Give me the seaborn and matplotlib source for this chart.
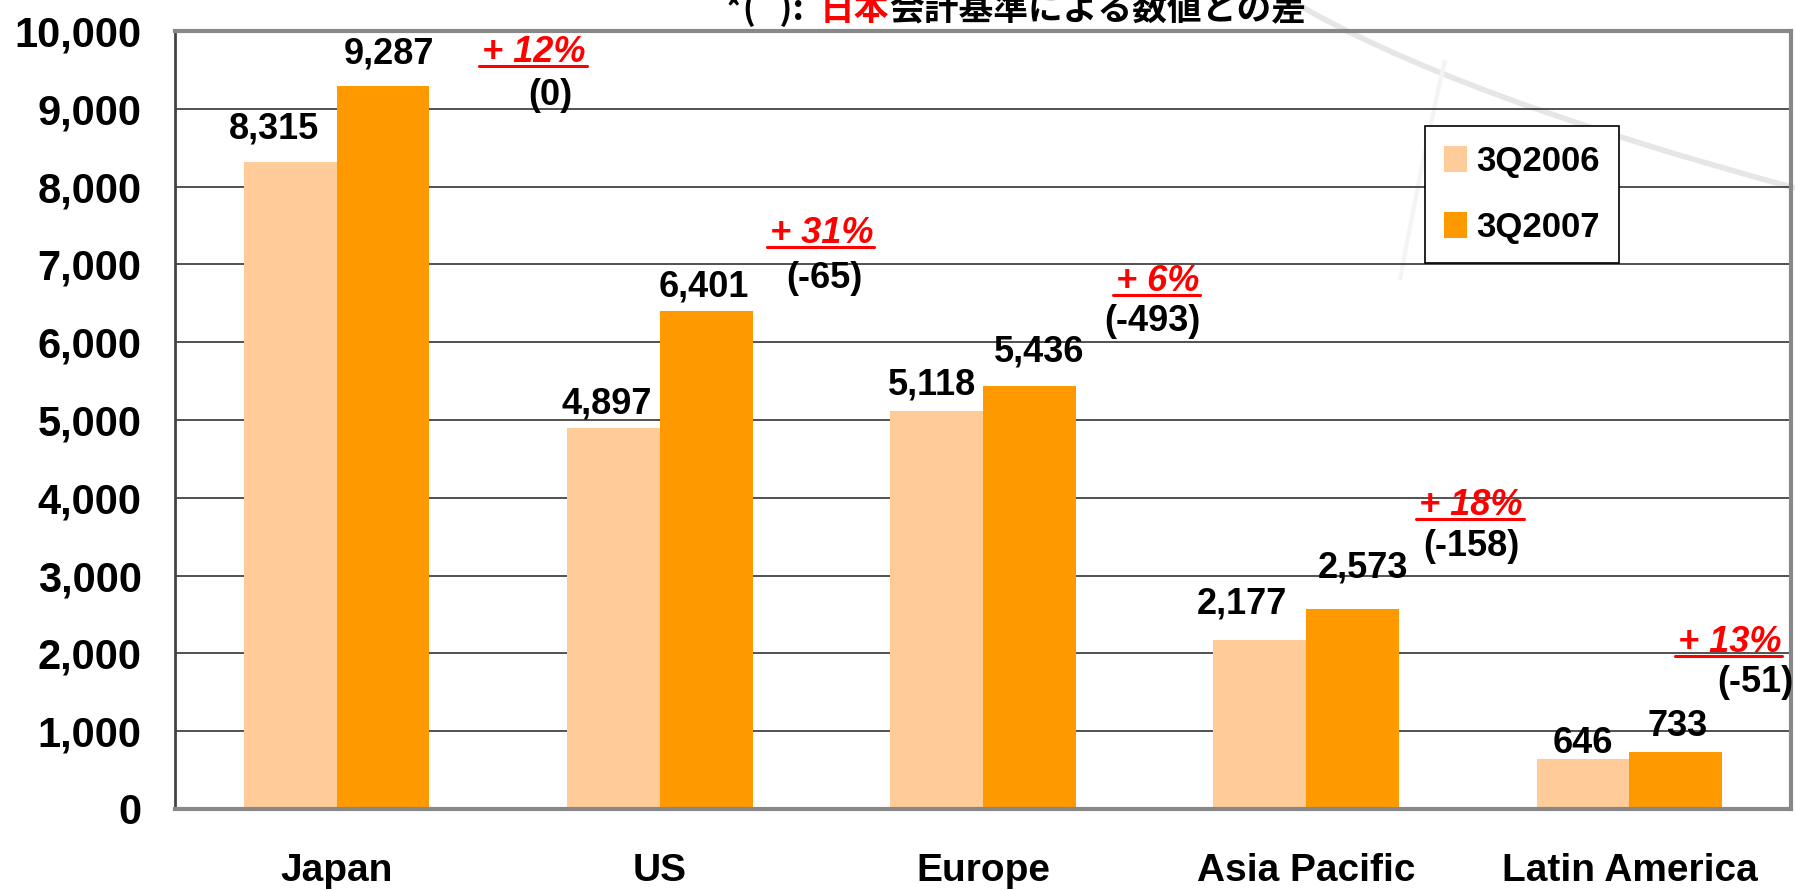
import matplotlib
matplotlib.use('Agg')
import matplotlib.pyplot as plt
from matplotlib.lines import Line2D
from matplotlib.patches import Patch, PathPatch
from matplotlib.path import Path
from matplotlib.transforms import Affine2D
import seaborn as sns
import pandas as pd

# データ
regions = ['Japan', 'US', 'Europe', 'Asia Pacific', 'Latin America']
periods = ['3Q2006', '3Q2007']
sales_2006 = [8315, 4897, 5118, 2177, 646]
sales_2007 = [9287, 6401, 5436, 2573, 733]
growth = ['+ 12%', '+ 31%', '+ 6%', '+ 18%', '+ 13%']
gaap_diff = ['(0)', '(-65)', '(-493)', '(-158)', '(-51)']

# 注記の位置 (カテゴリ単位, 値)
note_x = [0.61, 1.50, 2.54, 3.51, 4.31]
note_y = [9600, 7275, 6660, 3780, 2020]
diff_x = [0.66, 1.51, 2.525, 3.51, 4.39]
diff_y = [9165, 6825, 6260, 3370, 1620]

# 値ラベルのずれ (px: 横, バー上端からベースラインまで)
label_dx = [[-16, -7, -5, -18, 0], [6, -2, 10, 10, 2]]
label_gap = [[24, 15, 16, 26, 6], [23, 15, 25, 31, 16]]

df = pd.DataFrame({
    'region': regions * 2,
    'period': [periods[0]] * len(regions) + [periods[1]] * len(regions),
    'sales': sales_2006 + sales_2007,
})

sns.set_style('white')
plt.rcParams['font.family'] = ['Liberation Sans', 'DejaVu Sans']
plt.rcParams['text.color'] = 'black'
plt.rcParams['xtick.labelcolor'] = 'black'
plt.rcParams['ytick.labelcolor'] = 'black'

W, H = 1795, 890
fig = plt.figure(figsize=(W / 100, H / 100), dpi=100)
ax = fig.add_axes([175 / W, 81 / H, 1616 / W, 778 / H])
ax.patch.set_alpha(0)

colors = ['#FFCC99', '#FF9900']
sns.barplot(data=df, x='region', y='sales', hue='period', palette=colors,
            width=0.574, saturation=1, errorbar=None, ax=ax, legend=False,
            linewidth=0)

ax.set_xlim(-0.5, 4.5)
ax.set_ylim(0, 10000)
ax.set_xlabel('')
ax.set_ylabel('')

# 軸
ax.set_yticks(range(0, 10001, 1000))
ax.set_yticklabels([f'{v:,}' for v in range(0, 10001, 1000)],
                   fontweight='bold', fontsize=30)
ax.tick_params(axis='y', direction='in', length=11, width=1.5, color='#444444', pad=24)
ax.set_xticks(range(len(regions)))
ax.set_xticklabels(regions, fontweight='bold', fontsize=28)
ax.set_xticks([0.5, 1.5, 2.5, 3.5], minor=True)
ax.tick_params(axis='x', which='major', length=0, pad=32)
ax.tick_params(axis='x', which='minor', direction='in', length=8, width=1.5, color='#555555')
ax.yaxis.grid(True, color='#333333', lw=1.2)
ax.set_axisbelow(True)
for side in ['top', 'right', 'bottom']:
    ax.spines[side].set_color('#888888')
    ax.spines[side].set_linewidth(3)
ax.spines['left'].set_color('#444444')
ax.spines['left'].set_linewidth(2)

# 値ラベル
for cont, vals, dxs, gaps in zip(ax.containers, [sales_2006, sales_2007], label_dx, label_gap):
    for bar, v, dx, gap in zip(cont, vals, dxs, gaps):
        ax.annotate(f'{v:,}', (bar.get_x() + bar.get_width() / 2, bar.get_height()),
                    xytext=(dx * 0.72, gap * 0.72), textcoords='offset points',
                    ha='center', va='baseline', fontweight='bold', fontsize=26)

# 伸び率と日本基準との差
pct_texts = []
for x, y, s in zip(note_x, note_y, growth):
    t = ax.text(x, y, s, color='#FF0000', fontsize=26, fontweight='bold',
                fontstyle='italic', ha='center', va='baseline', clip_on=False)
    pct_texts.append((t, x, y))
for x, y, s in zip(diff_x, diff_y, gaap_diff):
    ax.text(x, y, s, color='black', fontsize=26, fontweight='bold',
            ha='center', va='center', clip_on=False)

# 凡例
handles = [Patch(facecolor=c, edgecolor='none') for c in colors]
leg = ax.legend(handles, periods, loc='upper left', bbox_to_anchor=(0.7735, 0.878),
                frameon=True, fancybox=False, framealpha=1, edgecolor='black',
                prop={'weight': 'bold', 'size': 25}, handlelength=0.67,
                handleheight=0.75, handletextpad=0.25, labelspacing=0.95,
                borderpad=0.55, borderaxespad=0)
leg.get_frame().set_linewidth(1.2)

# 背景の飾り曲線
px = Affine2D().scale(1 / W, -1 / H).translate(0, 1) + fig.transFigure
for verts, col, lw in [([(1290, 0), (1450, 95), (1795, 188)], '#e6e6e6', 4),
                       ([(1445, 60), (1422, 160), (1400, 280)], '#f4f4f4', 3)]:
    p = PathPatch(Path(verts, [Path.MOVETO, Path.CURVE3, Path.CURVE3]),
                  fill=False, edgecolor=col, lw=lw, transform=px, zorder=-1)
    fig.add_artist(p)

# タイトル (上端で切れている)
cjk = ['Noto Sans CJK JP', 'DejaVu Sans']
title_parts = [('*(   ):  ', 'black'), ('日本', '#FF0000'), ('会計基準による数値との差', 'black')]
fig.canvas.draw()
renderer = fig.canvas.get_renderer()
x0 = 725
for s, c in title_parts:
    t = fig.text(x0 / W, 1 - 20 / H, s, color=c, fontsize=25, fontweight='bold',
                 family=cjk, ha='left', va='baseline')
    bb = t.get_window_extent(renderer)
    x0 = bb.x1

# 下線
inv = fig.transFigure.inverted()
for t, x, y in pct_texts:
    bb = t.get_window_extent(renderer)
    base = ax.transData.transform((x, y))[1] - 4
    (fx0, fy), (fx1, _) = inv.transform([(bb.x0 - 3, base), (bb.x1 + 1, base)])
    fig.add_artist(Line2D([fx0, fx1], [fy, fy], color='#FF0000', lw=2.2,
                          transform=fig.transFigure))

fig.savefig('out.png', dpi=100)
